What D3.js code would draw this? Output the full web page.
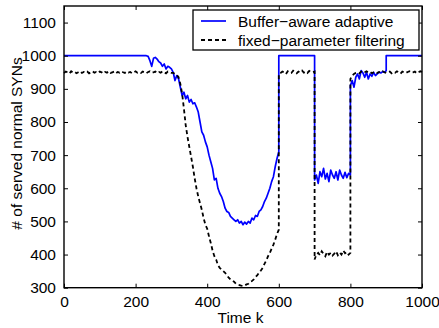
<!DOCTYPE html>
<html><head><meta charset="utf-8">
<script src="https://cdn.jsdelivr.net/npm/d3@7"></script>
<style>body{margin:0;background:#fff}svg{display:block}text{font-family:"Liberation Sans",Arial,Helvetica,sans-serif}</style>
</head><body><svg id="c" width="439" height="328"></svg>
<script>
const timeK = [0,5,10,15,20,25,30,35,40,45,50,55,60,65,70,75,80,85,90,95,
100,105,110,115,120,125,130,135,140,145,150,155,160,165,170,175,180,185,190,195,
200,205,210,215,220,225,230,235,240,245,250,255,260,265,270,275,280,285,290,295,
300,305,310,315,320,325,330,335,340,345,350,355,360,365,370,375,380,385,390,395,
400,405,410,415,420,425,430,435,440,445,450,455,460,465,470,475,480,485,490,495,
500,505,510,515,520,525,530,535,540,545,550,555,560,565,570,575,580,585,590,595,
600,600,605,610,615,620,625,630,635,640,645,650,655,660,665,670,675,680,685,690,695,
700,700,705,710,715,720,725,730,735,740,745,750,755,760,765,770,775,780,785,790,795,
800,800,805,810,815,820,825,830,835,840,845,850,855,860,865,870,875,880,885,890,895,
900,900,905,910,915,920,925,930,935,940,945,950,955,960,965,970,975,980,985,990,995,1000];

const bufferAware = [1000,1000,1000,1000,1000,1000,1000,1000,1000,1000,1000,1000,1000,1000,1000,1000,1000,1000,1000,1000,
1000,1000,1000,1000,1000,1000,1000,1000,1000,1000,1000,1000,1000,1000,1000,1000,1000,1000,1000,1000,
1000,1000,1000,1000,1000,1000,1000,998,985,968,992,995,990,982,978,968,975,960,968,965,
960,950,925,940,930,905,880,890,870,880,860,868,855,858,845,830,800,770,760,740,
725,700,680,660,625,630,600,585,575,560,540,530,527,515,510,505,500,505,495,500,
490,498,492,500,495,510,505,518,515,530,535,545,560,570,585,600,620,635,665,690,
710,1000,1000,1000,1000,1000,1000,1000,1000,1000,1000,1000,1000,1000,1000,1000,1000,1000,1000,1000,1000,
1000,625,640,615,650,635,660,628,645,620,655,640,630,650,625,655,640,630,648,632,645,
640,910,925,905,935,945,930,955,948,935,950,930,945,938,950,940,945,950,948,952,950,
955,1000,1000,1000,1000,1000,1000,1000,1000,1000,1000,1000,1000,1000,1000,1000,1000,1000,1000,1000,1000,1000];

const fixedParam = [948,952,950,946,953,949,951,947,950,953,948,951,949,952,947,950,953,949,951,948,
952,950,946,951,949,953,948,950,952,947,951,949,953,950,948,952,949,951,947,950,
953,949,951,948,952,950,947,951,953,949,950,952,948,951,949,953,950,947,952,950,
948,948,945,942,935,915,885,840,790,755,725,695,665,630,600,575,555,535,510,490,
478,455,435,412,395,385,368,360,355,350,345,338,330,325,322,318,312,310,308,306,
305,307,310,312,318,320,325,332,338,345,352,360,372,382,395,405,418,430,445,462,
475,945,948,952,950,945,953,950,948,955,951,947,952,950,955,949,952,948,954,951,950,
952,385,400,405,398,410,402,395,408,400,405,397,403,410,398,406,400,412,404,408,400,
405,930,940,945,948,950,947,952,948,950,953,949,951,947,950,952,948,951,949,953,950,
948,948,950,952,947,951,949,953,950,946,952,950,948,951,953,949,950,952,947,950,953,951];

const xTicks = [0,200,400,600,800,1000];
const yTicks = [300,400,500,600,700,800,900,1000,1100];
const seriesNames = ["Buffer\u2212aware adaptive","fixed\u2212parameter filtering"];
const seriesColors = ["#0000ff","#000000"];

(function(){
const svg = d3.select("#c");
const L=64,R=422,T=6,B=287.7;
const x = d3.scaleLinear().domain([0,1000]).range([L,R]);
const y = d3.scaleLinear().domain([300,1150]).range([B,T]);
const fs = "15.5px";
const fmt = d3.format("d");

const line = d3.line().x(d=>x(d[0])).y(d=>y(d[1]));
const blueData = timeK.map((k,i)=>[k,bufferAware[i]]);
const blackData = timeK.map((k,i)=>[k,fixedParam[i]]);

svg.append("path").attr("d",line(blueData)).attr("fill","none")
  .attr("stroke",seriesColors[0]).attr("stroke-width",1.7).attr("stroke-linejoin","round");
svg.append("path").attr("d",line(blackData)).attr("fill","none")
  .attr("stroke",seriesColors[1]).attr("stroke-width",1.8).attr("stroke-dasharray","4,3");

const tl=4;
const axB = d3.axisBottom(x).tickValues(xTicks).tickFormat(fmt).tickSizeInner(-tl).tickSizeOuter(0).tickPadding(8);
const axT = d3.axisTop(x).tickValues(xTicks).tickSizeInner(-tl).tickSizeOuter(0).tickFormat("");
const axL = d3.axisLeft(y).tickValues(yTicks).tickFormat(fmt).tickSizeInner(-tl).tickSizeOuter(0).tickPadding(8);
const axR = d3.axisRight(y).tickValues(yTicks).tickSizeInner(-tl).tickSizeOuter(0).tickFormat("");
function style(g){g.select(".domain").remove();g.selectAll("line").attr("stroke","#000").attr("stroke-width",1);
  g.selectAll("text").attr("font-size",fs).attr("fill","#000").style("font-family",'"Liberation Sans",Arial,sans-serif');}
svg.append("g").attr("transform",`translate(0,${B})`).call(axB).call(style);
svg.append("g").attr("transform",`translate(0,${T})`).call(axT).call(style);
svg.append("g").attr("transform",`translate(${L},0)`).call(axL).call(style);
svg.append("g").attr("transform",`translate(${R},0)`).call(axR).call(style);
svg.append("rect").attr("x",L).attr("y",T).attr("width",R-L).attr("height",B-T)
  .attr("fill","none").attr("stroke","#000").attr("stroke-width",1.4);

svg.append("text").attr("x",240.5).attr("y",323).attr("text-anchor","middle")
  .attr("font-size",fs).text("Time k");
svg.append("text").attr("transform",`translate(21.5,143.5) rotate(-90)`).attr("text-anchor","middle")
  .attr("font-size",fs).text("# of served normal SYNs");

const lg = svg.append("g");
lg.append("rect").attr("x",193).attr("y",10).attr("width",226).attr("height",40)
  .attr("fill","#fff").attr("stroke","#000").attr("stroke-width",1.3);
const rowsY=[21,40];
seriesNames.forEach((n,i)=>{
  lg.append("line").attr("x1",201).attr("x2",226).attr("y1",rowsY[i]).attr("y2",rowsY[i])
    .attr("stroke",seriesColors[i]).attr("stroke-width",i?1.8:1.7).attr("stroke-dasharray",i?"4,3":null);
  lg.append("text").attr("x",238).attr("y",rowsY[i]+5.5).attr("font-size",fs).text(n);
});
})();
</script></body></html>
